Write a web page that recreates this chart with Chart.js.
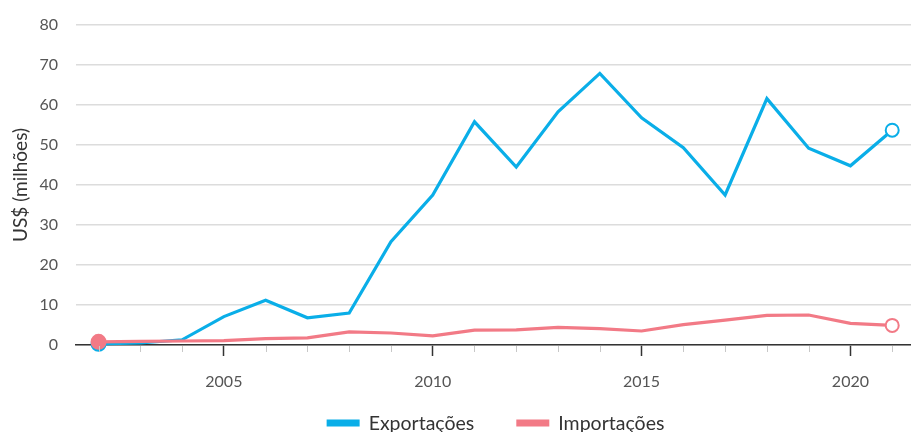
<!DOCTYPE html>
<html><head><meta charset="utf-8">
<script src="https://cdn.jsdelivr.net/npm/chart.js@4/dist/chart.umd.min.js"></script>
<style>html,body{margin:0;padding:0;background:#fff}#wrap{width:911px;height:432px}</style>
</head><body><div id="wrap"><canvas id="c"></canvas></div>
<script>
const years = [2002,2003,2004,2005,2006,2007,2008,2009,2010,2011,2012,2013,2014,2015,2016,2017,2018,2019,2020,2021];
const exportacoes = [0.3,0.5,1.3,7.1,11.2,6.8,8.0,25.8,37.5,55.8,44.5,58.3,67.9,56.8,49.3,37.5,61.6,49.2,44.8,53.7];
const importacoes = [0.8,0.9,1.0,1.1,1.6,1.8,3.3,3.0,2.3,3.7,3.8,4.4,4.1,3.5,5.1,6.2,7.4,7.5,5.4,4.9];
const seriesNames = ['Exportações','Importações'];
const yTicks = [0,10,20,30,40,50,60,70,80];
const xLabelYears = [2005,2010,2015,2020];
const BLUE = '#0AAEE8', RED = '#F27A86';

function mk(vals){ return years.map((y,i)=>({x:y,y:vals[i]})); }
function ptRadius(ctx){ const n=ctx.dataset.data.length; return ctx.dataIndex===0?7:(ctx.dataIndex===n-1?6.5:0); }
function ptBg(color){ return ctx => ctx.dataIndex===0?color:'#fff'; }

const minorTicks = {
  id:'minorTicks',
  afterDraw(chart){
    const c=chart.ctx, xs=chart.scales.x, b=chart.chartArea.bottom;
    c.save(); c.strokeStyle='#c8c8c8'; c.lineWidth=1;
    years.forEach(y=>{ if(y%5===0) return; const px=Math.round(xs.getPixelForValue(y))+0.5;
      c.beginPath(); c.moveTo(px,b+1); c.lineTo(px,b+7); c.stroke(); });
    c.restore();
  }
};
const legendPlugin = {
  id:'customLegend',
  afterDraw(chart){
    const c=chart.ctx; c.save();
    c.font='19.5px Lato'; c.textBaseline='middle';
    const bw=33,bh=7,gap=9,sp=42, cy=423;
    const ws=chart.data.datasets.map(d=>bw+gap+c.measureText(d.label).width);
    const total=ws.reduce((a,b)=>a+b,0)+sp*(ws.length-1);
    const ca=chart.chartArea; let x=(ca.left+ca.right)/2-total/2+2;
    chart.data.datasets.forEach((d,i)=>{
      c.fillStyle=d.borderColor; c.fillRect(x,cy-bh/2,bw,bh);
      c.fillStyle='#333'; c.fillText(d.label,x+bw+gap,cy+1);
      x+=ws[i]+sp;
    });
    c.restore();
  }
};

new Chart(document.getElementById('c'),{
  type:'line',
  data:{datasets:[
    {label:seriesNames[0],data:mk(exportacoes),borderColor:BLUE,backgroundColor:BLUE,borderWidth:3.2,
     pointRadius:ptRadius,pointBackgroundColor:ptBg(BLUE),pointBorderColor:BLUE,pointBorderWidth:2,order:1,tension:0,clip:false},
    {label:seriesNames[1],data:mk(importacoes),borderColor:RED,backgroundColor:RED,borderWidth:3.2,
     pointRadius:ptRadius,pointBackgroundColor:ptBg(RED),pointBorderColor:RED,pointBorderWidth:2,order:0,tension:0,clip:false}
  ]},
  options:{
    responsive:true,maintainAspectRatio:false,animation:false,
    layout:{autoPadding:false,padding:{top:25,right:0,left:0,bottom:39}},
    plugins:{legend:{display:false},tooltip:{enabled:false}},
    scales:{
      x:{type:'linear',min:2001.46,max:2021.45,
        afterBuildTicks:s=>{s.ticks=years.map(v=>({value:v}));},
        afterFit:s=>{s.height=48;s.paddingRight=0;s.paddingLeft=0;},
        ticks:{autoSkip:false,maxRotation:0,padding:16,color:'#555',font:{family:'Lato',size:16},
          callback:v=>xLabelYears.includes(v)?String(v):''},
        grid:{drawOnChartArea:false,drawTicks:true,tickLength:11,
          tickColor:ctx=>(ctx.tick&&xLabelYears.includes(ctx.tick.value))?'#333':'rgba(0,0,0,0)',tickWidth:1.5},
        border:{display:true,color:'#333',width:1.5}
      },
      y:{min:0,max:80,
        afterBuildTicks:s=>{s.ticks=yTicks.map(v=>({value:v}));},
        afterFit:s=>{s.width=76;s.paddingTop=0;s.paddingBottom=0;},
        ticks:{padding:18,color:'#555',font:{family:'Lato',size:16}},
        grid:{color:'#dcdcdc',lineWidth:1.5,drawTicks:false},
        border:{display:false},
        title:{display:true,text:'US$ (milhões)',color:'#333',font:{family:'Lato',size:19},padding:{top:9,bottom:0}}
      }
    }
  },
  plugins:[minorTicks,legendPlugin]
});
</script></body></html>
